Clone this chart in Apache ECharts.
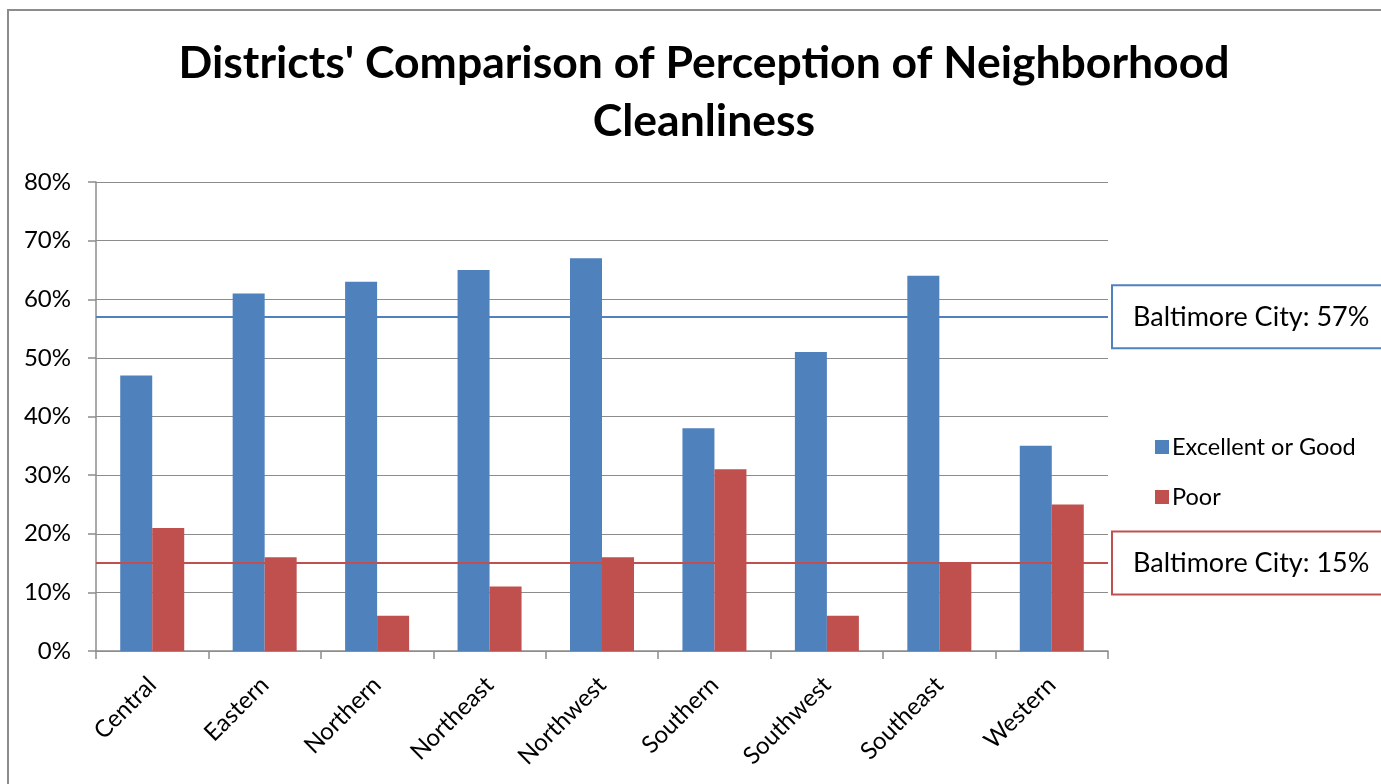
<!DOCTYPE html>
<html>
<head>
<meta charset="utf-8">
<script src="https://cdn.jsdelivr.net/npm/echarts@6/dist/echarts.min.js"></script>
<style>
html,body{margin:0;padding:0;background:#fff;}
#chart{width:1381px;height:784px;}
</style>
</head>
<body>
<div id="chart"></div>
<script>
var categories = ['Central','Eastern','Northern','Northeast','Northwest','Southern','Southwest','Southeast','Western'];
var excellentOrGood = [47, 61, 63, 65, 67, 38, 51, 64, 35];
var poor = [21, 16, 6, 11, 16, 31, 6, 15, 25];
var cityExcellent = 57;
var cityPoor = 15;
var yTicks = [0, 10, 20, 30, 40, 50, 60, 70, 80];

var FONT = 'Lato, "Open Sans", sans-serif';
var chart = echarts.init(document.getElementById('chart'));
function cityLabel(color, value) {
  return {
    position: 'end',
    distance: 5,
    formatter: 'Baltimore City: ' + value + '%',
    fontFamily: FONT, fontSize: 27, color: '#000', lineHeight: 27,
    backgroundColor: '#fff',
    borderColor: color, borderWidth: 2,
    padding: [17, 80, 17, 20]
  };
}
chart.setOption({
  animation: false,
  backgroundColor: '#fff',
  graphic: [{
    type: 'rect',
    shape: {x: 8, y: 10, width: 1400, height: 800},
    style: {fill: 'none', stroke: '#8c8c8c', lineWidth: 2},
    silent: true
  }],
  title: {
    text: "Districts' Comparison of Perception of Neighborhood\nCleanliness",
    left: 699,
    top: 30,
    textAlign: 'center',
    textStyle: {fontFamily: FONT, fontSize: 44.5, fontWeight: 'bold', color: '#000', lineHeight: 58}
  },
  legend: {
    orient: 'vertical',
    left: 1150,
    top: 430,
    itemWidth: 14,
    itemHeight: 14,
    itemGap: 26,
    icon: 'rect',
    textStyle: {fontFamily: FONT, fontSize: 23.5, color: '#000', padding: [0, 0, 0, -2]},
    data: ['Excellent or Good', 'Poor']
  },
  grid: {left: 96, right: 273, top: 182, bottom: 133},
  xAxis: {
    type: 'category',
    data: categories,
    axisLine: {lineStyle: {color: '#8c8c8c', width: 1.5}},
    axisTick: {show: true, length: 8, lineStyle: {color: '#8c8c8c', width: 1.5}},
    axisLabel: {rotate: 45, fontFamily: FONT, fontSize: 24, color: '#000', margin: 30}
  },
  yAxis: {
    type: 'value',
    min: 0,
    max: 80,
    interval: 10,
    axisLine: {show: true, lineStyle: {color: '#8c8c8c', width: 1.5}},
    axisTick: {show: true, length: 8, lineStyle: {color: '#8c8c8c', width: 1.5}},
    splitLine: {lineStyle: {color: '#8c8c8c', width: 1}},
    axisLabel: {fontFamily: FONT, fontSize: 24, color: '#000', margin: 25,
      formatter: function (v) { return yTicks.indexOf(v) >= 0 ? v + '%' : ''; }}
  },
  series: [
    {
      name: 'Excellent or Good',
      type: 'bar',
      data: excellentOrGood,
      barWidth: 32,
      barGap: '0%',
      itemStyle: {color: '#4f81bd'},
      markLine: {
        silent: true,
        symbol: 'none',
        data: [{yAxis: cityExcellent}],
        lineStyle: {color: '#4f81bd', width: 2, type: 'solid'},
        label: cityLabel('#4f81bd', cityExcellent)
      }
    },
    {
      name: 'Poor',
      type: 'bar',
      data: poor,
      barWidth: 32,
      barGap: '0%',
      itemStyle: {color: '#c0504d'},
      markLine: {
        silent: true,
        symbol: 'none',
        data: [{yAxis: cityPoor}],
        lineStyle: {color: '#c0504d', width: 2, type: 'solid'},
        label: cityLabel('#c0504d', cityPoor)
      }
    }
  ]
});
</script>
</body>
</html>
